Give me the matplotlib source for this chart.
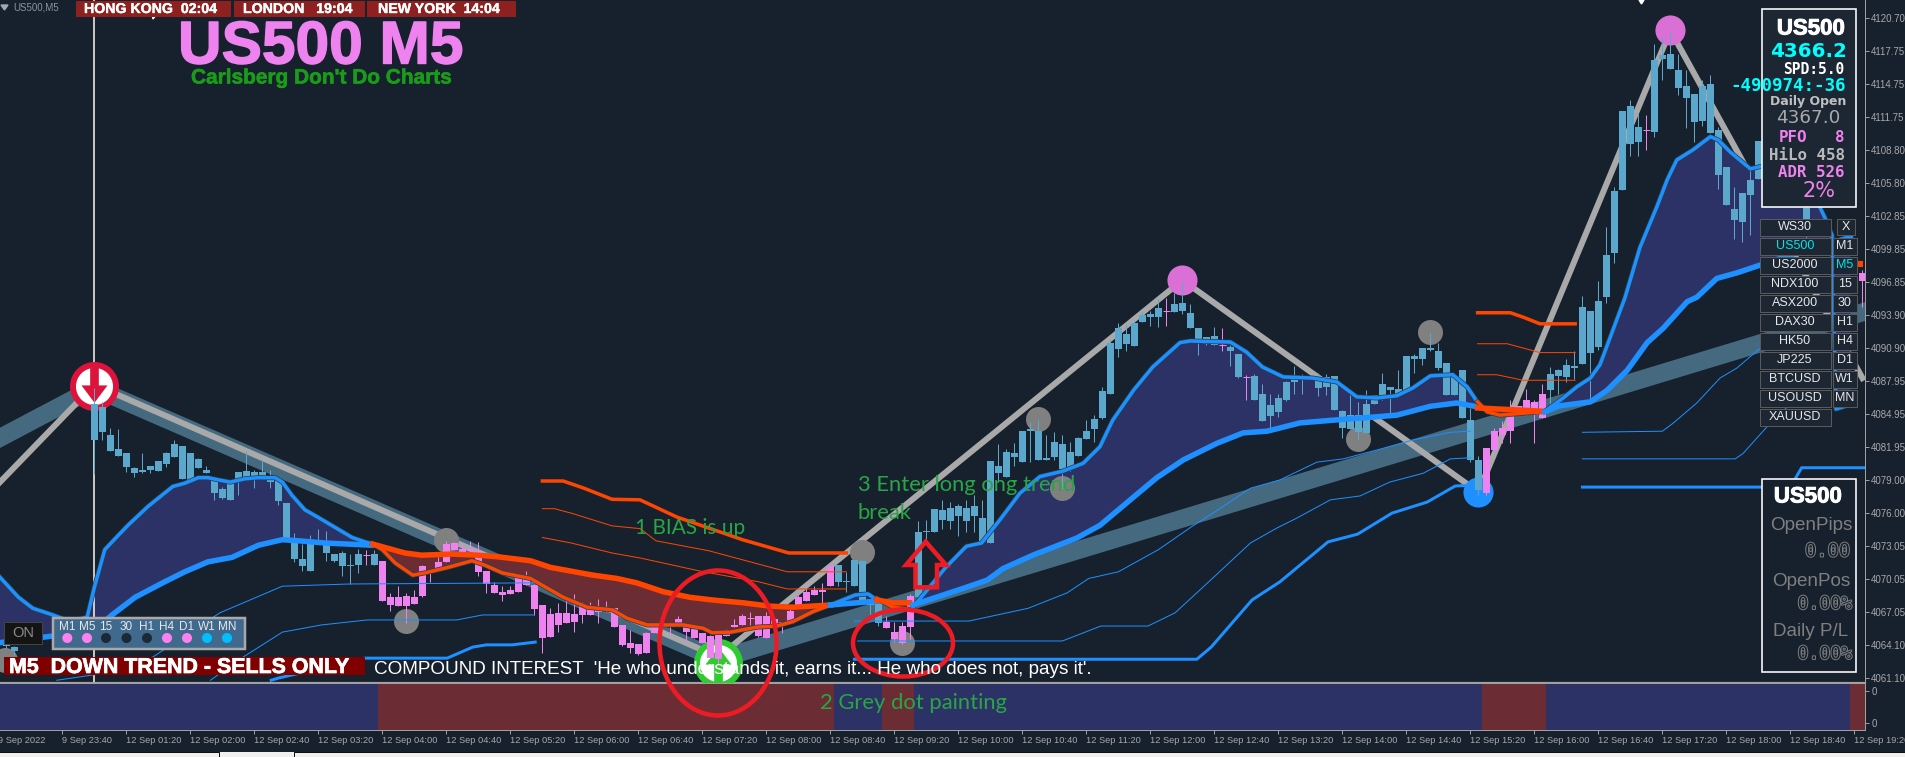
import matplotlib
matplotlib.use('Agg')
import matplotlib.pyplot as plt
import matplotlib.patheffects as pe
from matplotlib.patches import Rectangle, Ellipse, Polygon
import numpy as np

# price candles, bar 0 is the Monday open under the white line
body_top = [
4085.9,4085.6,4083.1,4081.8,4081.4,4080.1,4079.9,4080.3,4080.7,4081.4,
4082.2,4082.1,4081.4,4080.9,4079.9,4079.2,4078.2,4079.0,4079.7,4079.8,
4079.7,4079.7,4079.1,4079.0,4076.9,4073.7,4071.9,4073.3,4073.5,4073.2,
4072.3,4072.4,4071.3,4072.3,4072.2,4072.3,4071.7,4068.4,4068.4,4068.5,
4068.4,4071.2,4070.8,4071.6,4073.2,4073.3,4072.8,4072.8,4072.6,4070.8,
4069.5,4068.9,4069.1,4070.1,4070.2,4069.5,4067.7,4066.9,4067.0,4067.0,
4066.9,4067.7,4067.5,4067.4,4067.4,4067.4,4065.9,4064.3,4064.2,4065.2,
4065.8,4066.1,4066.0,4066.4,4065.8,4065.5,4065.2,4064.9,4065.0,4065.3,
4065.9,4066.7,4066.5,4066.7,4066.7,4066.4,4066.2,4067.2,4068.4,4068.9,
4069.1,4069.1,4071.2,4071.3,4069.85,4071.8,4071.7,4067.9,4067.8,4066.2,
4065.3,4065.8,4068.5,4074.3,4074.4,4076.4,4076.3,4076.5,4076.6,4076.5,
4076.6,4075.6,4080.7,4080.3,4081.5,4081.4,4083.4,4083.6,4083.4,4081.0,
4082.4,4082.2,4081.5,4082.8,4083.4,4084.5,4087.0,4091.4,4092.7,4092.2,
4093.2,4093.9,4094.0,4094.5,4094.3,4094.9,4095.0,4094.1,4092.7,4091.9,
4092.0,4091.2,4091.0,4090.4,4088.3,4088.4,4086.8,4085.8,4086.4,4087.8,
4088.1,4088.2,4088.2,4088.2,4088.3,4088.4,4085.2,4084.9,4084.9,4085.9,
4086.7,4087.7,4087.4,4087.2,4090.2,4090.2,4090.9,4090.9,4090.6,4089.6,
4088.4,4088.9,4084.4,4080.8,4081.9,4083.4,4083.7,4085.5,4085.7,4086.2,
4086.0,4086.8,4088.6,4088.9,4089.4,4089.3,4094.6,4094.3,4095.2,4099.3,
4105.1,4112.3,4112.8,4110.9,4110.6,4116.9,4117.4,4117.5,4116.0,4114.6,
4113.9,4114.6,4114.8,4110.6,4107.3,4103.5,4104.9,4106.1,4109.6]
body_bottom = [
4082.6,4083.3,4081.6,4081.2,4080.2,4079.6,4079.7,4079.9,4079.8,4080.4,
4081.1,4079.1,4079.0,4080.1,4079.6,4077.8,4077.4,4077.2,4079.0,4079.3,
4079.3,4079.2,4078.8,4077.1,4073.7,4071.9,4071.2,4070.8,4073.2,4072.4,
4071.7,4071.2,4071.2,4071.3,4072.2,4071.3,4068.1,4067.7,4067.6,4067.6,
4067.8,4068.5,4070.7,4070.8,4071.6,4072.7,4072.5,4072.6,4070.7,4069.6,
4068.8,4068.6,4068.7,4068.9,4069.5,4067.3,4064.7,4064.8,4065.9,4066.1,
4066.2,4066.8,4066.8,4067.1,4067.4,4065.7,4064.1,4063.8,4063.3,4063.4,
4065.2,4065.8,4066.0,4066.1,4065.3,4064.7,4064.3,4062.9,4062.8,4064.9,
4065.7,4065.9,4066.5,4064.9,4064.7,4065.8,4065.9,4066.1,4067.7,4068.1,
4068.6,4068.9,4069.4,4069.8,4069.75,4069.4,4068.0,4067.7,4066.1,4065.6,
4064.6,4064.3,4065.7,4068.4,4074.3,4074.3,4075.4,4075.3,4075.7,4075.3,
4075.7,4073.4,4073.3,4079.6,4079.3,4081.1,4080.6,4083.4,4080.8,4080.8,
4081.1,4080.0,4080.0,4081.2,4082.7,4083.6,4084.6,4086.8,4090.8,4091.3,
4091.1,4093.3,4093.7,4093.7,4094.3,4094.2,4094.3,4092.7,4091.7,4091.3,
4091.2,4091.2,4090.6,4088.3,4088.3,4086.2,4084.3,4084.8,4085.1,4086.2,
4087.8,4088.1,4088.1,4087.3,4087.4,4085.3,4083.7,4083.6,4083.3,4083.2,
4085.9,4086.6,4087.1,4086.7,4087.0,4089.9,4089.9,4090.7,4089.1,4086.7,
4086.7,4084.6,4080.8,4078.1,4077.8,4081.7,4083.05,4083.4,4084.9,4084.9,
4084.85,4084.6,4087.1,4088.4,4088.3,4089.1,4089.5,4090.5,4091.0,4095.5,
4099.5,4105.2,4109.3,4109.5,4110.6,4110.4,4117.0,4116.1,4114.4,4113.5,
4111.3,4111.4,4110.3,4106.5,4103.8,4102.5,4102.3,4104.7,4106.2]
bar_high = [
4087.3,4086.0,4083.7,4083.6,4081.4,4080.2,4081.4,4080.3,4080.7,4081.5,
4082.6,4082.1,4081.4,4081.0,4080.3,4079.2,4078.4,4079.0,4079.7,4081.6,
4079.9,4080.8,4079.9,4079.1,4076.9,4074.2,4073.2,4074.0,4074.6,4074.4,
4072.3,4072.6,4072.3,4072.8,4072.7,4072.7,4071.7,4068.8,4069.4,4068.8,
4069.1,4071.3,4070.8,4072.0,4073.5,4073.4,4073.3,4073.5,4073.4,4070.8,
4069.8,4069.4,4069.4,4070.5,4070.8,4069.6,4067.7,4067.4,4067.9,4068.5,
4068.7,4068.0,4068.0,4068.2,4068.1,4067.4,4065.9,4065.4,4064.2,4065.3,
4065.8,4066.3,4066.2,4066.7,4065.8,4065.5,4065.2,4065.0,4065.0,4065.5,
4066.4,4066.9,4067.1,4066.7,4067.1,4066.4,4066.2,4067.4,4068.6,4069.4,
4069.4,4069.7,4071.2,4071.3,4070.7,4071.8,4071.8,4068.2,4068.0,4066.7,
4066.2,4066.2,4068.7,4075.3,4075.4,4076.4,4077.2,4077.0,4076.8,4077.2,
4077.6,4077.2,4080.7,4082.2,4081.8,4082.3,4083.4,4084.2,4084.4,4083.1,
4083.3,4083.1,4082.4,4082.9,4084.4,4084.9,4087.4,4091.7,4093.2,4093.1,
4093.4,4094.3,4094.3,4095.3,4095.4,4095.9,4096.9,4094.9,4092.7,4091.9,
4092.8,4092.7,4091.2,4090.4,4088.5,4088.6,4087.7,4086.8,4086.8,4087.9,
4089.3,4088.6,4088.4,4088.7,4088.6,4088.4,4085.3,4086.7,4086.0,4087.1,
4086.7,4088.7,4087.4,4088.9,4090.2,4090.4,4090.9,4092.3,4091.4,4089.6,
4088.4,4088.9,4085.5,4081.2,4081.9,4083.7,4084.3,4086.2,4085.7,4087.2,
4086.2,4087.7,4089.2,4089.0,4089.9,4090.6,4095.6,4094.3,4097.0,4101.8,
4105.5,4112.3,4113.3,4112.1,4112.0,4118.4,4119.0,4119.5,4117.5,4116.0,
4113.9,4115.1,4115.6,4110.9,4107.3,4105.5,4104.9,4107.2,4109.6]
bar_low = [
4079.5,4082.6,4081.6,4081.2,4079.7,4079.3,4079.6,4079.6,4079.8,4080.2,
4081.1,4079.1,4079.0,4080.1,4079.6,4077.2,4077.3,4077.2,4077.6,4079.3,
4078.3,4079.2,4078.3,4076.7,4073.7,4071.6,4070.8,4070.8,4073.2,4071.7,
4071.6,4070.3,4069.6,4070.6,4071.3,4071.3,4068.1,4067.2,4067.6,4066.1,
4067.8,4068.4,4069.8,4070.8,4071.6,4072.7,4072.5,4072.6,4070.3,4068.8,
4068.8,4068.1,4068.7,4068.9,4069.5,4066.8,4063.4,4064.8,4065.3,4066.1,
4065.3,4066.1,4066.8,4066.1,4067.1,4065.7,4064.0,4063.4,4063.2,4063.4,
4065.2,4065.4,4065.0,4066.1,4064.4,4064.7,4064.3,4062.9,4062.4,4064.9,
4065.7,4065.9,4065.9,4064.8,4064.7,4065.8,4065.2,4066.1,4067.7,4068.1,
4068.6,4067.9,4069.4,4069.4,4068.9,4069.4,4067.9,4066.5,4065.8,4065.6,
4064.4,4064.2,4064.6,4068.4,4073.7,4074.3,4074.6,4074.6,4073.9,4074.3,
4074.3,4073.4,4073.3,4078.8,4079.3,4080.3,4080.6,4080.6,4080.8,4080.8,
4080.8,4078.2,4079.8,4081.2,4082.7,4082.4,4084.5,4086.8,4090.1,4090.6,
4091.1,4093.3,4092.9,4092.8,4092.9,4094.2,4094.0,4092.7,4090.3,4091.2,
4091.2,4090.6,4089.3,4088.2,4086.2,4086.2,4084.3,4083.7,4084.7,4086.1,
4086.8,4086.8,4088.1,4086.6,4086.7,4085.3,4082.8,4083.6,4082.6,4083.2,
4085.9,4086.2,4084.9,4086.7,4087.0,4088.7,4089.4,4090.6,4088.9,4086.7,
4086.7,4084.6,4080.6,4077.6,4077.6,4081.7,4082.3,4082.3,4084.9,4084.9,
4082.3,4084.6,4085.6,4086.8,4087.8,4088.1,4089.5,4086.3,4090.7,4095.0,
4098.6,4105.2,4108.3,4108.3,4108.8,4110.0,4115.1,4116.1,4113.8,4110.8,
4109.5,4111.0,4110.3,4105.3,4103.8,4100.8,4100.5,4101.1,4106.2]

# the few candles that show outside the panels on the far left and far right
extra_bars = [-11, -10, 214, 221]
extra_top = [4064.4, 4063.9, 4103.6, 4097.7]
extra_bottom = [4064.0, 4063.5, 4101.0, 4097.0]
extra_high = [4064.6, 4064.0, 4104.0, 4098.0]
extra_low = [4063.8, 4063.2, 4100.5, 4094.6]

# trend regimes, used by the candles and by the lower strip
regime_edges = [-12, 35.5, 92.5, 98.5, 102.5, 173.5, 181.5, 219.5, 221.3]
regime_up = [True, False, True, False, True, False, True, False]

# fast and slow averages, one pair per regime
fast_bars = [
[-11.8,-9.5,-7.7,-5.2,-3,-0.9,0,1.3,3,4.2,6.7,9.8,11.3,13,14.2,15.5,17,18.8,20.5,22.6,23.5,24.7,26.3,28,30.1,32.2,33.8,34.8],
[34.8,36,37.6,39.8,41.3,44.2,47.2,48.8,51,54.5,58.6,61.6,64.8,66.6,69.1,73.6,76.1,77.2,79.5,82.8,85.3,87.3,89.8,92],
[92,95.1,96.7,97.8],
[97.8,99.8,101.9],
[102.3,104.1,106.3,109,110.9,113.2,115.7,118.2,121.1,123.6,125.7,127.3,129.9,132.3,135.7,137,142,144,146,148.6,152.3,155.3,157.8,160.3,162.8,164.8,167,169.8,171.6,172.9],
[172.9,174.1,175.7,180.7],
[181.3,183.6,185.3,187,188.2,189.8,191.3,193.2,195.3,196.6,197.8,199.8,202,203,204.5,207,208.2,212,215.7,216.3,217.2,217.7,219.5],
]
fast_prices = [
[4070.2,4068.4,4067.4,4066.8,4066.2,4066.6,4069.3,4072.7,4074.0,4074.9,4076.6,4078.4,4078.7,4079.2,4079.2,4079.0,4078.8,4079.1,4079.2,4079.2,4078.8,4077.6,4076.3,4075.6,4074.7,4073.8,4073.4,4073.2],
[4073.2,4072.7,4071.5,4070.4,4070.6,4071.1,4071.7,4071.3,4070.6,4070.1,4068.4,4067.5,4067.25,4066.5,4065.9,4065.9,4065.6,4065.2,4065.25,4065.7,4065.8,4066.2,4067.1,4067.7],
[4067.7,4068.6,4068.7,4068.15],
[4068.3,4067.5,4067.3],
[4067.5,4069.05,4071.0,4073.0,4073.3,4075.4,4077.8,4079.3,4079.8,4080.5,4082.0,4084.4,4087.1,4089.2,4091.4,4091.55,4091.45,4090.55,4089.2,4088.3,4088.2,4087.85,4086.5,4086.4,4086.6,4087.3,4088.4,4088.5,4087.4,4086.0],
[4086.05,4085.15,4084.85,4085.15],
[4085.2,4086.4,4087.4,4088.2,4089.4,4092.5,4095.4,4100.0,4103.65,4106.1,4107.9,4108.8,4110.0,4109.7,4108.6,4107.1,4107.3,4107.4,4103.6,4102.7,4101.1,4085.4,4085.8],
]
slow_bars = [
[-11.8,-5.2,0,2.2,5.1,8.8,11.3,14.2,17.2,20.5,23.5,25.5,28.8,34.7],
[34.8,38.8,40.9,44.7,47.9,50.5,54.5,57,62.3,65.3,67.8,71.1,74.4,77.3,81.1,84.4,87.3,92],
[92,97.8],
[97.8,99.8,101.9],
[102.3,109,111.6,113.6,117.3,122.8,125.7,129.9,132.8,136.1,140.3,143.6,146.6,150.7,156.6,158.6,162.8,167,170.3,172.9],
[172.9,181.1],
[181.3,183.2,187,189.1,191.6,194.1,196.1,199.1,200.3,202.8,205.3,208.2,213.2,219.5],
]
slow_prices = [
[4064.3,4064.9,4065.4,4066.8,4068.4,4069.8,4070.7,4071.6,4072.0,4073.1,4073.6,4073.5,4073.3,4073.1],
[4073.2,4072.4,4072.2,4072.3,4072.2,4072.05,4071.7,4071.1,4070.4,4070.1,4069.7,4068.9,4068.4,4068.15,4067.9,4067.6,4067.5,4067.7],
[4067.7,4068.05],
[4068.15,4067.9,4067.9],
[4067.7,4069.3,4069.95,4071.0,4072.2,4073.75,4074.9,4077.45,4079.2,4080.8,4082.3,4083.25,4083.4,4084.15,4084.5,4084.6,4084.85,4085.65,4085.95,4085.6],
[4085.5,4085.2],
[4085.15,4085.7,4086.05,4087.1,4088.9,4091.4,4092.7,4095.1,4095.5,4097.2,4097.7,4098.4,4099.6,4100.9],
]
segment_up = [True, False, True, False, True, False, True]

# lower blue channel, broken into its visible pieces
low_band_bars = [
[22.1,23,33.8,44.1,47.3,49,52.2,55.1],
[95,137.8,139.6,144.7,148.2,154.2,157.9,162.2,166.6,170.1,171.6],
[186,212,213.4,221.2],
]
low_band_prices = [
[4060.9,4061.1,4062.9,4062.9,4063.9,4064.1,4064.1,4064.35],
[4062.8,4062.8,4063.9,4068.15,4069.8,4073.4,4074.1,4076.0,4077.0,4078.45,4078.5],
[4078.35,4078.35,4080.1,4080.1],
]
thin_a_bars = [
[-4.7,0,7.3,15.7,23.5,32,55],
[95,109.3,116.7,121.6,124.3,128,133,137.1,141,144.5,148.2,152.8,156.1,160.3,164.8,169.5,172],
[186,196,197.3,200.3,203.2,205.3,207.9,213.2],
]
thin_a_prices = [
[4060.9,4061.4,4063.0,4067.0,4069.4,4069.6,4069.7],
[4066.25,4066.25,4067.4,4068.8,4070.1,4070.7,4072.7,4074.75,4076.55,4078.25,4079.0,4080.6,4080.9,4081.7,4082.6,4083.3,4083.4],
[4083.3,4083.4,4084.1,4085.95,4088.2,4089.1,4090.7,4093.4],
]
thin_b_bars = [
[14.5,18.6,23.5,28.4,34.1,45.3,48.5,55],
[95.4,121,125.8,131.7,135.1,139.6,144.5,147.8,150.3,154.5,158.2,161.9,166.1,169.5,172],
[186,205.1,206.1,209.2,213.2],
]
thin_b_prices = [
[4060.9,4063.0,4065.25,4065.9,4066.35,4066.35,4066.8,4066.8],
[4064.45,4064.45,4065.8,4065.8,4067.0,4070.0,4073.3,4074.65,4075.55,4077.2,4077.55,4078.8,4079.6,4080.9,4081.0],
[4080.9,4080.9,4081.4,4083.9,4086.7],
]

# upper orange channel, two pieces with a thick and two thin lines
top_thick_bars = [[56,58.6,61.2,64.7,68.2,72.8,81,86.8,94], [172.9,177,178.6,180.7,185.1]]
top_thick_prices = [[4078.9,4078.9,4078.25,4077.25,4077.2,4075.65,4073.6,4072.4,4072.4], [4094.1,4094.1,4093.7,4093.1,4093.1]]
top_a_bars = [[56,57.5,59.6,64.7,68.2,70.2,76.8,83,86.6,94], [172.9,176.6,180.7,185.1]]
top_a_prices = [[4076.4,4076.4,4076.0,4074.85,4074.6,4073.5,4072.6,4071.4,4070.7,4070.7], [4091.3,4091.3,4090.5,4090.5]]
top_b_bars = [[56,59.6,64.7,68.2,75.8,83,86.6,94], [172.9,175.3,178.6,185.1]]
top_b_prices = [[4073.8,4073.3,4072.4,4071.95,4070.75,4069.8,4069.15,4069.15], [4088.5,4088.5,4088.0,4088.0]]

# zigzag swings and the wider trend band behind them
zigzag_bars = [-11.8, 0, 78, 136, 173, 197, 221]
zigzag_prices = [4078.8, 4087.6, 4063.0, 4097.05, 4077.9, 4119.6, 4088.2]
band_bars = [-11.8, 0, 78, 221.3]
band_prices = [4082.8, 4087.3, 4062.8, 4094.2]

grey_bars = [-11.2, 39, 44, 96, 101, 118, 121, 158, 167]
grey_prices = [4062.7, 4066.25, 4073.6, 4072.5, 4064.3, 4084.5, 4078.3, 4082.7, 4092.4]
high_bars = [136, 197]
high_prices = [4097.05, 4119.6]
low_bars = [173]
low_prices = [4077.9]

price_ticks = [4120.70,4117.75,4114.75,4111.75,4108.80,4105.80,4102.85,4099.85,4096.85,4093.90,4090.90,
               4087.95,4084.95,4081.95,4079.00,4076.00,4073.05,4070.05,4067.05,4064.10,4061.10]
time_labels = ['9 Sep 2022','9 Sep 23:40','12 Sep 01:20','12 Sep 02:00','12 Sep 02:40','12 Sep 03:20','12 Sep 04:00',
               '12 Sep 04:40','12 Sep 05:20','12 Sep 06:00','12 Sep 06:40','12 Sep 07:20','12 Sep 08:00','12 Sep 08:40',
               '12 Sep 09:20','12 Sep 10:00','12 Sep 10:40','12 Sep 11:20','12 Sep 12:00','12 Sep 12:40','12 Sep 13:20',
               '12 Sep 14:00','12 Sep 14:40','12 Sep 15:20','12 Sep 16:00','12 Sep 16:40','12 Sep 17:20','12 Sep 18:00',
               '12 Sep 18:40','12 Sep 19:20']

symbols = ['WS30','US500','US2000','NDX100','ASX200','DAX30','HK50','JP225','BTCUSD','USOUSD','XAUUSD']
timeframes = ['M1','M5','15','30','H1','H4','D1','W1','MN']
tf_dots = ['#ff80ee','#ff80ee','#1c2836','#1c2836','#1c2836','#ff80ee','#ff80ee','#00bfff','#00bfff']

BG = '#16212d'
CANDLE_UP = '#5ca8cc'
CANDLE_DOWN = '#ee82ee'
AREA_UP = '#2c3266'
AREA_DOWN = '#6b2d33'
BLUE = '#1e90ff'
ORANGE = '#ff4500'
AXIS = '#a0a0a0'
TEXT_AXIS = '#a8a8a8'
PX = 0.72  # one pixel in points at dpi 100


def is_up(bar):
    for i in range(len(regime_up)):
        if regime_edges[i] <= bar < regime_edges[i + 1]:
            return regime_up[i]
    return False


def draw_candles(ax, bars, top, bottom, high, low):
    for b, t, bo, h, l in zip(bars, top, bottom, high, low):
        col = CANDLE_UP if is_up(b) else CANDLE_DOWN
        if t == bo:
            col = CANDLE_DOWN
            ax.hlines(t, b - 0.42, b + 0.42, color=col, lw=PX, zorder=5)
        else:
            ax.bar(b, t - bo, bottom=bo, width=0.82, color=col, linewidth=0, zorder=5)
        ax.vlines(b, l, h, color=col, lw=PX, zorder=5)


fig = plt.figure(figsize=(19.05, 7.57), dpi=100, facecolor=BG)
ax = fig.add_axes([-1.6 / 1905, 1 - 681.5 / 757, 1866.4 / 1905, 681.5 / 757], facecolor=BG)
strip = fig.add_axes([-1.6 / 1905, 1 - 729.5 / 757, 1866.4 / 1905, 46.5 / 757], facecolor=BG)
ax.set_xlim(-12, 221.3)
ax.set_ylim(4060.79, 4122.35)

# background band and zigzag
ax.plot(band_bars, band_prices, color='#456a80', lw=18 * PX, solid_joinstyle='miter', zorder=1)
ax.plot(zigzag_bars, zigzag_prices, color='#a9a9a9', lw=6 * PX, zorder=2)

# areas between the averages
for fb, fp, sb, sp, up in zip(fast_bars, fast_prices, slow_bars, slow_prices, segment_up):
    ax.fill(list(fb) + list(sb[::-1]), list(fp) + list(sp[::-1]),
            color=AREA_UP if up else AREA_DOWN, lw=0, zorder=3)

# pivots and signal rings sit under the candles
ax.scatter(grey_bars, grey_prices, s=324, color='#808080', linewidths=0, zorder=4)
ax.scatter(high_bars, high_prices, s=470, color='#da70d6', linewidths=0, zorder=4)
ax.scatter(low_bars, low_prices, s=470, color=BLUE, linewidths=0, zorder=4)
ax.scatter([0], [4087.5], s=961, facecolor='white', edgecolor='#dc143c', linewidths=4.3, zorder=4)
ax.scatter([78], [4062.5], s=961, facecolor='white', edgecolor='#2ecc2e', linewidths=4.3, zorder=4)
down_arrow = [(-.2, .9), (.2, .9), (.2, .05), (.6, .05), (0, -.75), (-.6, .05), (-.2, .05)]
up_arrow = [(x, -y) for x, y in down_arrow]
ax.scatter([0], [4087.5], s=790, marker=down_arrow, color='#dc143c', linewidths=0, zorder=4)
ax.scatter([78], [4062.5], s=790, marker=up_arrow, color='#2ecc2e', linewidths=0, zorder=4)

ax.axvline(0, color='#f5efe0', lw=1.6 * PX, zorder=3)

draw_candles(ax, range(len(body_top)), body_top, body_bottom, bar_high, bar_low)
draw_candles(ax, extra_bars, extra_top, extra_bottom, extra_high, extra_low)

# averages on top of the candles
halo = [pe.withStroke(linewidth=5 * PX, foreground='#24424f')]
for fb, fp, sb, sp, up in zip(fast_bars, fast_prices, slow_bars, slow_prices, segment_up):
    col = BLUE if up else ORANGE
    ax.plot(fb, fp, color=col, lw=3.5 * PX, zorder=6, path_effects=halo)
    ax.plot(sb, sp, color=col, lw=5.5 * PX, zorder=6)

for bars, prices in zip(low_band_bars, low_band_prices):
    ax.plot(bars, prices, color=BLUE, lw=3 * PX, zorder=6)
for bars, prices in zip(thin_a_bars + thin_b_bars, thin_a_prices + thin_b_prices):
    ax.plot(bars, prices, color=BLUE, lw=PX, zorder=6)
for bars, prices in zip(top_thick_bars, top_thick_prices):
    ax.plot(bars, prices, color=ORANGE, lw=3.5 * PX, zorder=6)
for bars, prices in zip(top_a_bars + top_b_bars, top_a_prices + top_b_prices):
    ax.plot(bars, prices, color=ORANGE, lw=PX, zorder=6)
ax.scatter([220.7], [4098.5], s=22, marker='s', color=ORANGE, linewidths=0, zorder=6)

# price axis
ax.yaxis.tick_right()
ax.set_yticks(price_ticks)
ax.set_yticklabels(['%.2f' % p for p in price_ticks], fontsize=7, color=TEXT_AXIS, family='Liberation Sans')
ax.tick_params(axis='y', length=3, width=PX, color=AXIS, pad=1.5)
ax.set_xticks([])
for name in ['top', 'left']:
    ax.spines[name].set_visible(False)
ax.spines['right'].set_color(AXIS)
ax.spines['right'].set_linewidth(PX)
ax.spines['bottom'].set_color(AXIS)
ax.spines['bottom'].set_linewidth(1.2 * PX)

# lower trend strip
strip.set_xlim(-12, 221.3)
strip.set_ylim(0, 1)
for i, up in enumerate(regime_up):
    strip.axvspan(regime_edges[i], regime_edges[i + 1], color=AREA_UP if up else AREA_DOWN, lw=0)
strip.yaxis.tick_right()
strip.set_yticks([0.133, 0.834])
strip.set_yticklabels(['0', '0'], fontsize=7, color=TEXT_AXIS, family='Liberation Sans')
tick_pos = [-12] + [-4 + 8 * i for i in range(len(time_labels) - 1)]
strip.set_xticks(tick_pos)
strip.set_xticklabels(time_labels, fontsize=6.7, color=TEXT_AXIS, family='Liberation Sans', ha='left')
strip.tick_params(axis='both', length=2.6, width=PX, color=AXIS, pad=2)
strip.spines['left'].set_visible(False)
for name in ['right', 'top', 'bottom']:
    strip.spines[name].set_color(AXIS)
    strip.spines[name].set_linewidth(PX)

# everything the terminal paints on top, in screen pixels
ov = fig.add_axes([0, 0, 1, 1], facecolor='none', zorder=10)
ov.set_xlim(0, 1905)
ov.set_ylim(757, 0)
ov.axis('off')


def box(x0, y0, x1, y1, face, edge='none', lw=1.0):
    ov.add_patch(Rectangle((x0, y0), x1 - x0, y1 - y0, facecolor=face, edgecolor=edge, linewidth=lw * PX))


def label(x, y, s, color='white', size=10, ha='left', family='Liberation Sans', weight='normal', heavy=0, **kw):
    t = ov.text(x, y, s, color=color, fontsize=size, ha=ha, va='center', family=family, fontweight=weight, **kw)
    if heavy:
        t.set_path_effects([pe.withStroke(linewidth=heavy, foreground=color)])
    return t


label(13.5, 7, 'US500,M5', '#8a949c', 7)
ov.add_patch(Polygon([(1, 5), (8, 5), (4.5, 10)], color='#a0a8b0'))
ov.add_patch(Polygon([(1639, 0), (1644, 0), (1641.5, 4)], color='white'))
ov.add_patch(Polygon([(152, 15), (156, 15), (153, 19)], color='white'))

box(76, 1, 231, 16.7, '#8f2020')
box(233.5, 1, 364.5, 16.7, '#8f2020')
box(367, 1, 516, 16.7, '#8f2020')
label(84, 9, 'HONG KONG  02:04', size=10.2, weight='bold', heavy=0.3)
label(243, 9, 'LONDON   19:04', size=10.2, weight='bold', heavy=0.3)
label(378, 9, 'NEW YORK  14:04', size=10.2, weight='bold', heavy=0.3)

label(178, 48, 'US500 M5', '#ee82ee', 43.5, weight='bold', heavy=1)
label(191, 78, "Carlsberg Don't Do Charts", '#1a9c1a', 15, weight='bold', heavy=0.4)

# multi timeframe panel and ON button
box(4, 621.7, 42.4, 644, '#141414', '#444444')
label(23, 633, 'ON', '#8a8a8a', 10.5, ha='center')
box(53, 617.7, 245, 649, '#3f6a8e', '#a9a9a9', 2.5)
tf_x = np.array([67.3, 87, 106, 126.5, 147, 167, 187, 207, 227])
for x, t, c in zip(tf_x, timeframes, tf_dots):
    label(x, 627, t, '#e8e8e8', 8.5, ha='center')
ov.scatter(tf_x, [638] * len(tf_x), s=52, c=tf_dots, linewidths=0)

box(4, 657, 364.5, 675, '#800000')
label(9, 667.5, 'M5  DOWN TREND - SELLS ONLY', size=15.4, weight='bold', heavy=0.5)
label(374, 669.5, "COMPOUND INTEREST  'He who understands it, earns it... He who does not, pays it'.", size=13.6)

# symbol buttons
for i, s in enumerate(symbols):
    y = 227 + 19 * i
    box(1759.5, y - 8.5, 1830.5, y + 8.5, '#1c2733', '#5a5a5a')
    label(1795, y, s, '#00e5e5' if s == 'US500' else '#e8e8e8', 9, ha='center')
box(1837, 219, 1855, 235, '#1c2733', '#5a5a5a')
label(1846, 227, 'X', '#e8e8e8', 9, ha='center')
for i, t in enumerate(timeframes):
    y = 246 + 19 * i
    box(1832.5, y - 8.5, 1857, y + 8.5, '#1c2733', '#5a5a5a')
    label(1844.7, y, t, '#00e5e5' if t == 'M5' else '#e8e8e8', 9, ha='center')

# account info panel
box(1761.7, 9.3, 1855.7, 207.3, '#1c2733', 'white', 1.6)
label(1845, 29, 'US500', 'white', 16, ha='right', weight='bold', heavy=0.7)
label(1846.7, 51.7, '4366.2', '#00ffff', 14.3, ha='right', family='DejaVu Sans', weight='bold')
label(1844, 70, 'SPD:5.0', 'white', 10.5, ha='right', family='DejaVu Sans Mono', weight='bold')
label(1846, 86, '-490974:-36', '#00ffff', 12.6, ha='right', family='DejaVu Sans Mono', weight='bold')
label(1846.7, 101.7, 'Daily Open', '#c0c0c0', 9, ha='right', family='DejaVu Sans', weight='bold')
label(1840, 118.3, '4367.0', '#a9a9a9', 13.2, ha='right', family='DejaVu Sans')
label(1779, 137.7, 'PFO', '#ee82ee', 11.3, family='DejaVu Sans Mono', weight='bold')
label(1845, 137.7, '8', '#ee82ee', 11.3, ha='right', family='DejaVu Sans Mono', weight='bold')
label(1845, 155, 'HiLo 458', '#b8b8b8', 11.4, ha='right', family='DejaVu Sans Mono', weight='bold')
label(1845, 172.3, 'ADR 526', '#ee82ee', 11.3, ha='right', family='DejaVu Sans Mono', weight='bold')
label(1836, 191, '2%', '#ee82ee', 15, ha='right', family='DejaVu Sans')

# open position panel
box(1761.5, 478.7, 1855.5, 672.3, BG, 'white', 1.6)
label(1842, 497, 'US500', 'white', 16, ha='right', weight='bold', heavy=0.7)
hollow = [pe.withStroke(linewidth=1.4, foreground='#808080')]
label(1811, 525.7, 'OpenPips', '#7f7f7f', 13.6, ha='center')
label(1850, 551, '0.00', BG, 13.5, ha='right', family='DejaVu Sans Mono', path_effects=hollow)
label(1811.5, 581.7, 'OpenPos', '#7f7f7f', 13.6, ha='center')
label(1852, 604, '0.00%', BG, 13, ha='right', family='DejaVu Sans Mono', path_effects=hollow)
label(1811, 631.7, 'Daily P/L', '#7f7f7f', 13.6, ha='center')
label(1852, 654, '0.00%', BG, 13, ha='right', family='DejaVu Sans Mono', path_effects=hollow)

# hand drawn notes
NOTE = '#2aa545'
label(635, 528, '1 BIAS is up', NOTE, 15, family='Lato')
label(857.5, 485, '3 Enter long ong trend', NOTE, 15.8, family='Lato')
label(857.5, 513, 'break', NOTE, 15.8, family='Lato')
label(820, 703, '2 Grey dot painting', NOTE, 15.8, family='Lato')
RED = '#ed1c24'
ov.add_patch(Ellipse((718, 643), 117, 145, fill=False, edgecolor=RED, lw=4.5 * PX))
ov.add_patch(Ellipse((903, 643), 100, 67, fill=False, edgecolor=RED, lw=4.5 * PX))
ov.add_patch(Polygon([(925.7, 541.7), (946, 565), (937, 565), (937, 587.3), (915.5, 587.3), (915.5, 565), (906, 565)],
                     fill=False, edgecolor=RED, lw=4.5 * PX))

# tab strip under the chart
box(0, 752, 1905, 757, '#f0f0f0')
ov.plot([0, 219, 219], [752, 752, 757], color='#111111', lw=PX)
ov.plot([294, 294, 1905], [757, 752, 752], color='#111111', lw=PX)

fig.savefig('out.png', dpi=100, facecolor=BG)
